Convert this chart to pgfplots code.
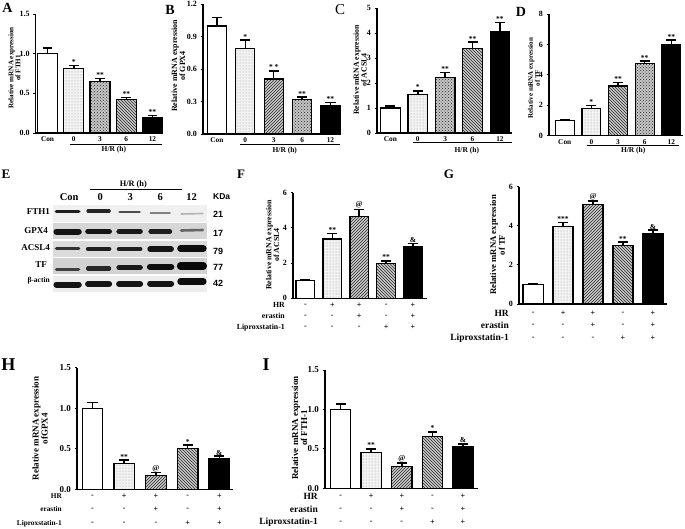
\documentclass[border=0pt]{standalone}
\usepackage{pgfplots}
\pgfplotsset{compat=1.18}
\usepackage{fontspec}
\setmainfont{Liberation Serif}
\newfontfamily\sansf{Liberation Sans}
\usetikzlibrary{patterns}
\newcommand\fs[1]{\fontsize{#1}{#1}\selectfont\bfseries}
\newcommand\signrow[6]{%
  \node[sgn] at ([yshift=-#1pt]axis cs:0,0) {#2};%
  \node[sgn] at ([yshift=-#1pt]axis cs:1,0) {#3};%
  \node[sgn] at ([yshift=-#1pt]axis cs:2,0) {#4};%
  \node[sgn] at ([yshift=-#1pt]axis cs:3,0) {#5};%
  \node[sgn] at ([yshift=-#1pt]axis cs:4,0) {#6};}
\tikzset{
  sgn/.style={font=\fs{8}, inner sep=0pt, anchor=center},
  star/.style={font=\fs{7.5}, anchor=south, inner sep=0.8pt},
  lett/.style={font=\fs{13}, inner sep=0pt, anchor=center},
  ylab/.style={rotate=90, align=center, inner sep=0pt, anchor=center},
}
\pgfplotsset{
  panel/.style={
    scale only axis, clip=false, anchor=south west, enlargelimits=false,
    axis x line*=bottom, axis y line*=left,
    axis line style={line width=1.2pt, black, -},
    ybar, ymin=0, xtick={0,1,2,3,4},
    xtick style={draw=none},
    ytick style={line width=1pt, black},
    tick align=outside, major tick length=2.5pt,
    /pgf/number format/assume math mode=true,
    xticklabel style={font=\fs{7.3}, yshift=2pt},
    yticklabel style={font=\fs{8}},
  },
  dec1/.style={yticklabel style={/pgf/number format/fixed, /pgf/number format/fixed zerofill, /pgf/number format/precision=1}},
  big/.style={yticklabel style={font=\fs{9}}},
  b1/.style={bar shift=0pt, fill=white, draw=black, line width=1.2pt},
  b2/.style={bar shift=0pt, fill=gray!10, draw=black, line width=1.2pt, postaction={pattern=dots, pattern color=gray!80}},
  b3/.style={bar shift=0pt, fill=gray!40, draw=black, line width=1.2pt, postaction={pattern=north east lines, pattern color=black!85}},
  b4/.style={bar shift=0pt, fill=gray!40, draw=black, line width=1.2pt, postaction={pattern=north west lines, pattern color=black!85}},
  bx/.style={bar shift=0pt, fill=gray!45, draw=black, line width=1.2pt, postaction={pattern=crosshatch dots, pattern color=black!85}},
  b5/.style={bar shift=0pt, fill=black, draw=black, line width=1.2pt},
  eb/.style={sharp plot, draw=black, line width=1.5pt, mark=none, unbounded coords=jump, forget plot},
}
\begin{document}
\begin{tikzpicture}
% ---------------- A ----------------
\begin{axis}[panel, dec1, at={(35.7pt,-133pt)}, width=127.3pt, height=119pt,
  xmin=-0.45, xmax=4.4, ymax=1.5, ytick={0,0.5,1,1.5}, bar width=0.76,
  xticklabels={Con,0,3,6,12}]
\addplot[b1] coordinates {(0,1.00)};
\addplot[b2] coordinates {(1,0.81)};
\addplot[bx] coordinates {(2,0.65)};
\addplot[b4] coordinates {(3,0.42)};
\addplot[b5] coordinates {(4,0.19)};
\addplot[eb] coordinates {(0,1.00) (0,1.07) (nan,nan) (-0.19,1.07) (0.19,1.07) (nan,nan)
  (1,0.81) (1,0.85) (nan,nan) (0.81,0.85) (1.19,0.85) (nan,nan)
  (2,0.65) (2,0.69) (nan,nan) (1.81,0.69) (2.19,0.69) (nan,nan)
  (3,0.42) (3,0.45) (nan,nan) (2.81,0.45) (3.19,0.45) (nan,nan)
  (4,0.19) (4,0.22) (nan,nan) (3.81,0.22) (4.19,0.22)};
\node[star] at (axis cs:1,0.85) {*};
\node[star] at (axis cs:2,0.69) {**};
\node[star] at (axis cs:3,0.45) {**};
\node[star] at (axis cs:4,0.22) {**};
\draw[line width=1pt] ([yshift=-11pt]axis cs:0.86,0) -- ([yshift=-11pt]axis cs:4.36,0);
\node[font=\fs{7.5}] at ([yshift=-16.5pt]axis cs:2.53,0) {H/R (h)};
\end{axis}
% ---------------- B ----------------
\begin{axis}[panel, dec1, at={(203pt,-134pt)}, width=138pt, height=129.6pt,
  xmin=-0.49, xmax=4.37, ymax=1.2, ytick={0,0.3,0.6,0.9,1.2}, bar width=0.67,
  xticklabels={Con,0,3,6,12}]
\addplot[b1] coordinates {(0,1.00)};
\addplot[b2] coordinates {(1,0.79)};
\addplot[b3] coordinates {(2,0.51)};
\addplot[bx] coordinates {(3,0.32)};
\addplot[b5] coordinates {(4,0.265)};
\addplot[eb] coordinates {(0,1.00) (0,1.08) (nan,nan) (-0.18,1.08) (0.18,1.08) (nan,nan)
  (1,0.79) (1,0.87) (nan,nan) (0.82,0.87) (1.18,0.87) (nan,nan)
  (2,0.51) (2,0.585) (nan,nan) (1.82,0.585) (2.18,0.585) (nan,nan)
  (3,0.32) (3,0.342) (nan,nan) (2.82,0.342) (3.18,0.342) (nan,nan)
  (4,0.265) (4,0.293) (nan,nan) (3.82,0.293) (4.18,0.293)};
\node[star] at (axis cs:1,0.87) {*};
\node[star] at (axis cs:2,0.585) {* *};
\node[star] at (axis cs:3,0.342) {**};
\node[star] at (axis cs:4,0.293) {**};
\draw[line width=1pt] ([yshift=-10pt]axis cs:0.81,0) -- ([yshift=-10pt]axis cs:4.33,0);
\node[font=\fs{7.5}] at ([yshift=-16.7pt]axis cs:2.39,0) {H/R (h)};
\end{axis}
% ---------------- C ----------------
\begin{axis}[panel, at={(377pt,-133pt)}, width=135pt, height=124.7pt,
  xmin=-0.49, xmax=4.44, ymax=5, ytick={0,1,2,3,4,5}, bar width=0.71,
  xticklabels={Con,0,3,6,12}]
\addplot[b1] coordinates {(0,1.00)};
\addplot[b2] coordinates {(1,1.53)};
\addplot[bx] coordinates {(2,2.21)};
\addplot[b4] coordinates {(3,3.40)};
\addplot[b5] coordinates {(4,4.05)};
\addplot[eb] coordinates {(0,1.00) (0,1.09) (nan,nan) (-0.18,1.09) (0.18,1.09) (nan,nan)
  (1,1.53) (1,1.69) (nan,nan) (0.82,1.69) (1.18,1.69) (nan,nan)
  (2,2.21) (2,2.42) (nan,nan) (1.82,2.42) (2.18,2.42) (nan,nan)
  (3,3.40) (3,3.64) (nan,nan) (2.82,3.64) (3.18,3.64) (nan,nan)
  (4,4.05) (4,4.43) (nan,nan) (3.82,4.43) (4.18,4.43)};
\node[star] at (axis cs:1,1.69) {*};
\node[star] at (axis cs:2,2.42) {**};
\node[star] at (axis cs:3,3.64) {**};
\node[star] at (axis cs:4,4.43) {**};
\draw[line width=1pt] ([yshift=-9.7pt]axis cs:0.82,0) -- ([yshift=-9.7pt]axis cs:4.44,0);
\node[font=\fs{7.5}] at ([yshift=-17.7pt]axis cs:2.79,0) {H/R (h)};
\end{axis}
% ---------------- D ----------------
\begin{axis}[panel, at={(549pt,-135.7pt)}, width=134pt, height=121.7pt,
  xmin=-0.59, xmax=4.44, ymax=8, ytick={0,2,4,6,8}, bar width=0.71,
  xticklabels={Con,0,3,6,12}]
\addplot[b1] coordinates {(0,1.00)};
\addplot[b2] coordinates {(1,1.80)};
\addplot[b4] coordinates {(2,3.27)};
\addplot[bx] coordinates {(3,4.76)};
\addplot[b5] coordinates {(4,6.00)};
\addplot[eb] coordinates {(0,1.00) (0,1.06) (nan,nan) (-0.19,1.06) (0.19,1.06) (nan,nan)
  (1,1.80) (1,2.00) (nan,nan) (0.81,2.00) (1.19,2.00) (nan,nan)
  (2,3.27) (2,3.50) (nan,nan) (1.81,3.50) (2.19,3.50) (nan,nan)
  (3,4.76) (3,4.91) (nan,nan) (2.81,4.91) (3.19,4.91) (nan,nan)
  (4,6.00) (4,6.28) (nan,nan) (3.81,6.28) (4.19,6.28)};
\node[star] at (axis cs:1,2.0) {*};
\node[star] at (axis cs:2,3.5) {**};
\node[star] at (axis cs:3,4.91) {**};
\node[star] at (axis cs:4,6.28) {**};
\draw[line width=1pt] ([yshift=-9.3pt]axis cs:0.84,0) -- ([yshift=-9.3pt]axis cs:4.3,0);
\node[font=\fs{7.5}] at ([yshift=-15pt]axis cs:2.57,0) {H/R (h)};
\end{axis}
% ---------------- E (blot) ----------------
\begin{axis}[at={(53.3pt,-291.7pt)}, anchor=south west, scale only axis, width=154pt, height=86.7pt,
  xmin=-0.461, xmax=4.506, ymin=-291.7, ymax=-205, hide axis, clip=false]
\addplot[fill=gray!12, draw=none] coordinates {(-0.461,-221.7) (4.506,-221.7) (4.506,-205) (-0.461,-205)} -- cycle;
\addplot[fill=gray!32, draw=none] coordinates {(-0.461,-239) (4.506,-239) (4.506,-223.3) (-0.461,-223.3)} -- cycle;
\addplot[fill=gray!28, draw=none] coordinates {(-0.461,-256.7) (4.506,-256.7) (4.506,-240.7) (-0.461,-240.7)} -- cycle;
\addplot[fill=gray!35, draw=none] coordinates {(-0.461,-274) (4.506,-274) (4.506,-258.3) (-0.461,-258.3)} -- cycle;
\addplot[fill=gray!14, draw=none] coordinates {(-0.461,-291.7) (4.506,-291.7) (4.506,-276) (-0.461,-276)} -- cycle;
% FTH1
\addplot[line width=3.8pt, black!88, line cap=round] coordinates {(-0.36,-211.5) (0.36,-211.5)};
\addplot[line width=3.3pt, black!85, line cap=round] coordinates {(0.66,-211) (1.34,-211)};
\addplot[line width=2.8pt, black!70, line cap=round] coordinates {(1.68,-212) (2.32,-212)};
\addplot[line width=2.2pt, black!50, line cap=round] coordinates {(2.68,-213) (3.3,-213)};
\addplot[line width=1.6pt, black!30, line cap=round] coordinates {(3.66,-214) (4.36,-213.5)};
% GPX4
\addplot[line width=6pt, black!92, line cap=round] coordinates {(-0.36,-231.5) (0.36,-231.5)};
\addplot[line width=5.8pt, black!92, line cap=round] coordinates {(0.66,-231.5) (1.34,-231.5)};
\addplot[line width=5.4pt, black!90, line cap=round] coordinates {(1.66,-231.5) (2.34,-231.5)};
\addplot[line width=4.6pt, black!88, line cap=round] coordinates {(2.68,-231.5) (3.3,-231.5)};
\addplot[line width=2.6pt, black!60, line cap=round] coordinates {(3.66,-230.5) (4.36,-230)};
% ACSL4
\addplot[line width=3.4pt, black!80, line cap=round] coordinates {(-0.36,-248.5) (0.36,-248.5)};
\addplot[line width=4.5pt, black!88, line cap=round] coordinates {(0.66,-249) (1.34,-249)};
\addplot[line width=4.7pt, black!88, line cap=round] coordinates {(1.66,-249) (2.34,-249)};
\addplot[line width=5.5pt, black!92, line cap=round] coordinates {(2.66,-249) (3.34,-249)};
\addplot[line width=6.5pt, black!95, line cap=round] coordinates {(3.64,-248.5) (4.38,-248.5)};
% TF
\addplot[line width=3pt, black!75, line cap=round] coordinates {(-0.36,-269.5) (0.36,-269.5)};
\addplot[line width=4.2pt, black!85, line cap=round] coordinates {(0.66,-268.5) (1.34,-268.5)};
\addplot[line width=5.5pt, black!90, line cap=round] coordinates {(1.66,-267.5) (2.34,-267.5)};
\addplot[line width=6.5pt, black!95, line cap=round] coordinates {(2.66,-267) (3.34,-267)};
\addplot[line width=7.2pt, black!97, line cap=round] coordinates {(3.64,-266) (4.38,-266)};
% beta-actin
\addplot[line width=6pt, black!92, line cap=round] coordinates {(-0.36,-284.5) (0.36,-284.5)};
\addplot[line width=6pt, black!92, line cap=round] coordinates {(0.66,-284) (1.34,-284)};
\addplot[line width=6pt, black!92, line cap=round] coordinates {(1.66,-284) (2.34,-284)};
\addplot[line width=6pt, black!92, line cap=round] coordinates {(2.66,-283.5) (3.34,-283.5)};
\addplot[line width=6.4pt, black!95, line cap=round] coordinates {(3.64,-281.5) (4.38,-281.5)};
% headers
\node[font=\fs{10.5}] at (axis cs:0.05,-197) {Con};
\node[font=\fs{10.5}] at (axis cs:1.05,-197) {0};
\node[font=\fs{10.5}] at (axis cs:2.02,-197) {3};
\node[font=\fs{10.5}] at (axis cs:2.99,-197.5) {6};
\node[font=\fs{10.5}] at (axis cs:4.0,-197) {12};
\draw[line width=1pt] (axis cs:0.73,-190) -- (axis cs:3.69,-190);
\node[font=\fs{8.3}] at (axis cs:2.12,-184.5) {H/R (h)};
\end{axis}
% blot side labels
\node[font=\fs{9}, anchor=east, inner sep=0pt] at (50pt,-212pt) {FTH1};
\node[font=\fs{9}, anchor=east, inner sep=0pt] at (48pt,-231pt) {GPX4};
\node[font=\fs{9}, anchor=east, inner sep=0pt] at (50pt,-248pt) {ACSL4};
\node[font=\fs{9}, anchor=east, inner sep=0pt] at (47pt,-264.5pt) {TF};
\node[font=\fs{7.5}, anchor=east, inner sep=0pt] at (50pt,-280.5pt) {β-actin};
\node[font=\sansf\fs{8.5}, anchor=west, inner sep=0pt] at (213pt,-197pt) {KDa};
\node[font=\sansf\fs{9}, anchor=west, inner sep=0pt] at (213pt,-214pt) {21};
\node[font=\sansf\fs{9}, anchor=west, inner sep=0pt] at (213pt,-233pt) {17};
\node[font=\sansf\fs{9}, anchor=west, inner sep=0pt] at (213pt,-251pt) {79};
\node[font=\sansf\fs{9}, anchor=west, inner sep=0pt] at (213pt,-267pt) {77};
\node[font=\sansf\fs{9}, anchor=west, inner sep=0pt] at (213pt,-283pt) {42};
% ---------------- F ----------------
\begin{axis}[panel, at={(293pt,-298.3pt)}, width=134pt, height=105.6pt,
  xmin=-0.46, xmax=4.52, ymax=6, ytick={0,2,4,6}, bar width=0.69,
  xticklabels={}]
\addplot[b1] coordinates {(0,1.00)};
\addplot[b2] coordinates {(1,3.37)};
\addplot[b3] coordinates {(2,4.64)};
\addplot[b4] coordinates {(3,1.99)};
\addplot[b5] coordinates {(4,2.91)};
\addplot[eb] coordinates {(0,1.00) (0,1.03) (nan,nan) (-0.19,1.03) (0.19,1.03) (nan,nan)
  (1,3.37) (1,3.67) (nan,nan) (0.81,3.67) (1.19,3.67) (nan,nan)
  (2,4.64) (2,5.06) (nan,nan) (1.81,5.06) (2.19,5.06) (nan,nan)
  (3,1.99) (3,2.13) (nan,nan) (2.81,2.13) (3.19,2.13) (nan,nan)
  (4,2.91) (4,3.10) (nan,nan) (3.81,3.10) (4.19,3.10)};
\node[star] at (axis cs:1,3.67) {**};
\node[star] at (axis cs:2,5.06) {@};
\node[star] at (axis cs:3,2.13) {**};
\node[star] at (axis cs:4,3.10) {\&};
\signrow{7}{-}{+}{+}{-}{+}
\signrow{18}{-}{-}{+}{-}{+}
\signrow{29}{-}{-}{-}{+}{+}
\end{axis}
% ---------------- G ----------------
\begin{axis}[panel, at={(519pt,-304pt)}, width=148pt, height=117.3pt,
  xmin=-0.47, xmax=4.47, ymax=6, ytick={0,2,4,6}, bar width=0.67,
  xticklabels={}]
\addplot[b1] coordinates {(0,1.00)};
\addplot[b2] coordinates {(1,3.98)};
\addplot[b3] coordinates {(2,5.09)};
\addplot[b4] coordinates {(3,2.99)};
\addplot[b5] coordinates {(4,3.60)};
\addplot[eb] coordinates {(0,1.00) (0,1.04) (nan,nan) (-0.17,1.04) (0.17,1.04) (nan,nan)
  (1,3.98) (1,4.18) (nan,nan) (0.83,4.18) (1.17,4.18) (nan,nan)
  (2,5.09) (2,5.26) (nan,nan) (1.83,5.26) (2.17,5.26) (nan,nan)
  (3,2.99) (3,3.16) (nan,nan) (2.83,3.16) (3.17,3.16) (nan,nan)
  (4,3.60) (4,3.78) (nan,nan) (3.83,3.78) (4.17,3.78)};
\node[star] at (axis cs:1,4.18) {***};
\node[star] at (axis cs:2,5.26) {@};
\node[star] at (axis cs:3,3.16) {**};
\node[star] at (axis cs:4,3.78) {\&};
\signrow{9}{-}{+}{+}{-}{+}
\signrow{21}{-}{-}{+}{-}{+}
\signrow{34}{-}{-}{-}{+}{+}
\end{axis}
% ---------------- H ----------------
\begin{axis}[panel, dec1, big, at={(77pt,-489.3pt)}, width=156pt, height=121.6pt,
  xmin=-0.49, xmax=4.43, ymax=1.5, ytick={0,0.5,1,1.5}, bar width=0.65,
  xticklabels={}]
\addplot[b1] coordinates {(0,1.00)};
\addplot[b2] coordinates {(1,0.32)};
\addplot[b3] coordinates {(2,0.175)};
\addplot[b4] coordinates {(3,0.50)};
\addplot[b5] coordinates {(4,0.38)};
\addplot[eb] coordinates {(0,1.00) (0,1.07) (nan,nan) (-0.16,1.07) (0.16,1.07) (nan,nan)
  (1,0.32) (1,0.36) (nan,nan) (0.84,0.36) (1.16,0.36) (nan,nan)
  (2,0.175) (2,0.205) (nan,nan) (1.84,0.205) (2.16,0.205) (nan,nan)
  (3,0.50) (3,0.545) (nan,nan) (2.84,0.545) (3.16,0.545) (nan,nan)
  (4,0.38) (4,0.41) (nan,nan) (3.84,0.41) (4.16,0.41)};
\node[star] at (axis cs:1,0.36) {**};
\node[star] at (axis cs:2,0.205) {@};
\node[star] at (axis cs:3,0.545) {*};
\node[star] at (axis cs:4,0.41) {\&};
\signrow{7}{-}{+}{+}{-}{+}
\signrow{20}{-}{-}{+}{-}{+}
\signrow{34}{-}{-}{-}{+}{+}
\end{axis}
% ---------------- I ----------------
\begin{axis}[panel, dec1, big, at={(325pt,-488.3pt)}, width=153pt, height=118.3pt,
  xmin=-0.51, xmax=4.49, ymax=1.5, ytick={0,0.5,1,1.5}, bar width=0.67,
  xticklabels={}]
\addplot[b1] coordinates {(0,1.00)};
\addplot[b2] coordinates {(1,0.456)};
\addplot[b3] coordinates {(2,0.278)};
\addplot[b4] coordinates {(3,0.662)};
\addplot[b5] coordinates {(4,0.523)};
\addplot[eb] coordinates {(0,1.00) (0,1.07) (nan,nan) (-0.16,1.07) (0.16,1.07) (nan,nan)
  (1,0.456) (1,0.50) (nan,nan) (0.84,0.50) (1.16,0.50) (nan,nan)
  (2,0.278) (2,0.32) (nan,nan) (1.84,0.32) (2.16,0.32) (nan,nan)
  (3,0.662) (3,0.717) (nan,nan) (2.84,0.717) (3.16,0.717) (nan,nan)
  (4,0.523) (4,0.565) (nan,nan) (3.84,0.565) (4.16,0.565)};
\node[star] at (axis cs:1,0.50) {**};
\node[star] at (axis cs:2,0.32) {@};
\node[star] at (axis cs:3,0.717) {*};
\node[star] at (axis cs:4,0.565) {\&};
\signrow{8}{-}{+}{+}{-}{+}
\signrow{21}{-}{-}{+}{-}{+}
\signrow{34}{-}{-}{-}{+}{+}
\end{axis}
% row labels
\node[font=\fs{7.8}, anchor=east, inner sep=0pt] at (285pt,-305.3pt) {HR};
\node[font=\fs{7.8}, anchor=east, inner sep=0pt] at (285pt,-316.3pt) {erastin};
\node[font=\fs{7.8}, anchor=east, inner sep=0pt] at (285pt,-327.3pt) {Liproxstatin-1};
\node[font=\fs{9.5}, anchor=east, inner sep=0pt] at (509pt,-313pt) {HR};
\node[font=\fs{9.5}, anchor=east, inner sep=0pt] at (509pt,-325pt) {erastin};
\node[font=\fs{9.5}, anchor=east, inner sep=0pt] at (509pt,-338pt) {Liproxstatin-1};
\node[font=\fs{7.3}, anchor=east, inner sep=0pt] at (62pt,-496.3pt) {HR};
\node[font=\fs{7.3}, anchor=east, inner sep=0pt] at (62pt,-509.3pt) {erastin};
\node[font=\fs{7.3}, anchor=east, inner sep=0pt] at (62pt,-523.3pt) {Liproxstatin-1};
\node[font=\fs{9.5}, anchor=east, inner sep=0pt] at (318pt,-496.3pt) {HR};
\node[font=\fs{9.5}, anchor=east, inner sep=0pt] at (318pt,-509.3pt) {erastin};
\node[font=\fs{9.5}, anchor=east, inner sep=0pt] at (318pt,-522.3pt) {Liproxstatin-1};
% y labels
\node[ylab, font=\fs{7.1}] at (14.5pt,-68pt) {Relative mRNA expression\\of FTH1};
\node[ylab, font=\fs{8}] at (178.5pt,-66pt) {Relative mRNA expression\\of GPX4};
\node[ylab, font=\fs{7.8}] at (360pt,-70pt) {Relative mRNA expression\\of ACSL4};
\node[ylab, font=\fs{7}] at (534pt,-78pt) {Relative mRNA expression\\of TF};
\node[ylab, font=\fs{7.8}] at (272.5pt,-245pt) {Relative mRNA expression\\of ACSL4};
\node[ylab, font=\fs{8.7}] at (497.5pt,-245pt) {Relative mRNA expression\\of TF};
\node[ylab, font=\fs{9}] at (40pt,-428.5pt) {Relative mRNA expression\\ofGPX4};
\node[ylab, font=\fs{9}] at (299.5pt,-428pt) {Relative mRNA expression\\of FTH-1};
% panel letters
\node[lett, font=\fs{14}] at (7.5pt,-8pt) {A};
\node[lett, font=\fs{14}] at (170pt,-10pt) {B};
\node[lett, font=\fontsize{15}{15}\selectfont] at (340pt,-10pt) {C};
\node[lett, font=\fs{14}] at (521pt,-12pt) {D};
\node[lett] at (6pt,-174pt) {E};
\node[lett] at (241pt,-174pt) {F};
\node[lett] at (449pt,-174pt) {G};
\node[lett, font=\fs{18}] at (8.5pt,-365pt) {H};
\node[lett, font=\fs{18}] at (266pt,-365pt) {I};
\pgfresetboundingbox
\path[use as bounding box] (0,0) rectangle (685pt,-528pt);
\end{tikzpicture}
\end{document}
